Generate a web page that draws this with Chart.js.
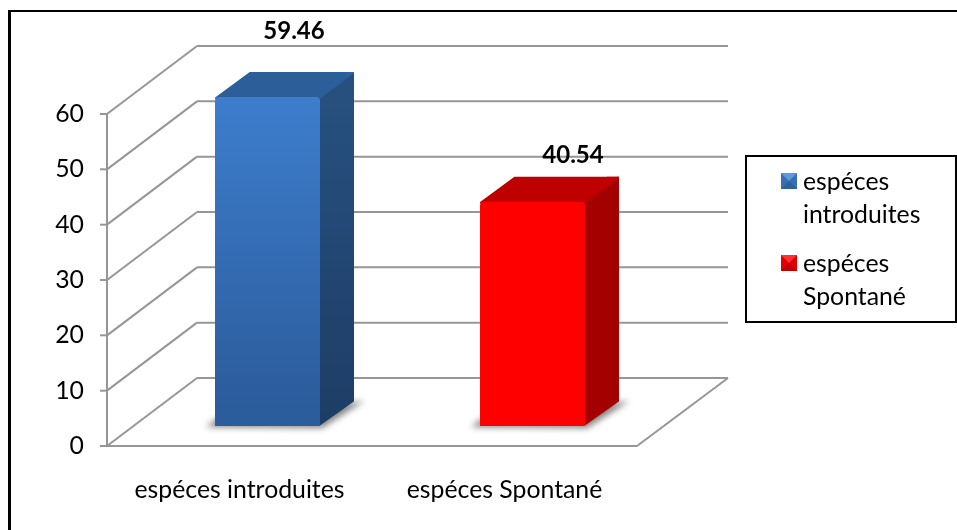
<!DOCTYPE html>
<html>
<head>
<meta charset="utf-8">
<style>
  html, body { margin: 0; padding: 0; background: #fff; }
  #wrap { position: relative; width: 957px; height: 530px; }
  canvas { display: block; }
</style>
<script src="https://cdn.jsdelivr.net/npm/chart.js@4/dist/chart.umd.min.js"></script>
</head>
<body>
<div id="wrap"><canvas id="c" width="957" height="530"></canvas></div>
<script>
const categories = ['espéces introduites', 'espéces Spontané'];
const values = [59.46, 40.54];
const valueLabels = ['59.46', '40.54'];
const yTicks = [0, 10, 20, 30, 40, 50, 60];
const legendLines = [['espéces', 'introduites'], ['espéces', 'Spontané']];

const FONT = 'Lato, Carlito, Calibri, sans-serif';
const TEXT_SIZE = 24.8;
const GRID = '#969696';

// Box depth of the pseudo-3D floor, and how far into it the bars stand.
const FLOOR = { dx: 90, dy: -68 };
const BAR_SHIFT = { dx: 28, dy: -20 };
const BAR_DEPTH = { dx: 34, dy: -25 };
// Value captions sit where they were placed by hand, relative to each bar.
const CAPTION_OFFSET = [{ dx: 54.5, dy: -86 }, { dx: 68.5, dy: -66 }];

const themes = [
  { front: ['#3f80d0', '#2b5c9c'], side: ['#27507f', '#1d3d66'], top: '#2c5e99', topEdge: '#2f66a8',
    swatch: { top: '#5a9be0', bottom: '#2f5f9f', side: '#3a70b0' } },
  { front: ['#ff0000', '#ff0000'], side: ['#a50000', '#a50000'], top: '#bf0000', topEdge: '#cc0000',
    swatch: { top: '#ff3030', bottom: '#c00000', side: '#e00000' } }
];

function line(ctx, x1, y1, x2, y2) {
  ctx.beginPath();
  ctx.moveTo(x1, y1);
  ctx.lineTo(x2, y2);
  ctx.stroke();
}

// Floor, side wall and back wall, all hung off the chart's own scales.
function drawRoom(chart) {
  const { ctx, chartArea: a, scales: { y } } = chart;
  ctx.save();
  ctx.strokeStyle = GRID;
  ctx.lineWidth = 2;
  yTicks.forEach(v => {
    const p = y.getPixelForValue(v);
    line(ctx, a.left, p, a.left + FLOOR.dx, p + FLOOR.dy);
    line(ctx, a.left + FLOOR.dx, p + FLOOR.dy, a.right + FLOOR.dx + 1, p + FLOOR.dy);
    line(ctx, a.left - 7, p, a.left, p);
  });
  const base = y.getPixelForValue(0);
  line(ctx, a.left, y.getPixelForValue(60), a.left, base);
  line(ctx, a.left - 7, base, a.right, base);
  line(ctx, a.right, base, a.right + FLOOR.dx + 1, base + FLOOR.dy);
  ctx.restore();
}

// Soft shadow on the floor plus the top and side faces of each bar.
function drawBarFaces(chart) {
  const { ctx } = chart;
  const meta = chart.getDatasetMeta(0);
  meta.data.forEach((bar, i) => {
    const t = themes[i];
    const w = bar.width;
    const l = bar.x - w / 2 + BAR_SHIFT.dx;
    const r = bar.x + w / 2 + BAR_SHIFT.dx;
    const top = bar.y + BAR_SHIFT.dy;
    const bottom = bar.base + BAR_SHIFT.dy;
    const d = BAR_DEPTH;

    ctx.save();
    ctx.filter = 'blur(3px)';
    ctx.fillStyle = 'rgba(90,90,90,0.75)';
    ctx.beginPath();
    ctx.moveTo(l - 9, bottom + 1);
    ctx.lineTo(l + 4, bottom - 9);
    ctx.lineTo(r + d.dx + 10, bottom + d.dy);
    ctx.lineTo(r + 2, bottom + 2);
    ctx.closePath();
    ctx.fill();
    ctx.restore();

    ctx.save();
    ctx.lineJoin = 'round';
    const sg = ctx.createLinearGradient(0, top, 0, bottom);
    sg.addColorStop(0, t.side[0]);
    sg.addColorStop(1, t.side[1]);
    ctx.fillStyle = sg;
    ctx.strokeStyle = sg;
    ctx.lineWidth = 2;
    ctx.beginPath();
    ctx.moveTo(r - 1, top + 1);
    ctx.lineTo(r + d.dx - 1, top + d.dy + 1);
    ctx.lineTo(r + d.dx - 1, bottom + d.dy);
    ctx.lineTo(r - 1, bottom - 1);
    ctx.closePath();
    ctx.fill();
    ctx.stroke();

    ctx.fillStyle = t.top;
    ctx.strokeStyle = t.top;
    ctx.beginPath();
    ctx.moveTo(l + 1, top + 1);
    ctx.lineTo(l + d.dx + 1, top + d.dy + 1);
    ctx.lineTo(r + d.dx - 1, top + d.dy + 1);
    ctx.lineTo(r - 1, top + 1);
    ctx.closePath();
    ctx.fill();
    ctx.stroke();

    const eg = ctx.createLinearGradient(r + d.dx - 12, 0, r + d.dx, 0);
    eg.addColorStop(0, t.top);
    eg.addColorStop(1, t.topEdge);
    ctx.fillStyle = eg;
    ctx.beginPath();
    ctx.moveTo(r, top);
    ctx.lineTo(r + d.dx, top + d.dy);
    ctx.lineTo(r + d.dx - 12, top + d.dy);
    ctx.closePath();
    ctx.fill();
    ctx.restore();
  });
}

const room3d = {
  id: 'room3d',
  beforeDatasetsDraw(chart) {
    drawRoom(chart);
    drawBarFaces(chart);
    chart.ctx.save();
    chart.ctx.translate(BAR_SHIFT.dx, BAR_SHIFT.dy);
  },
  afterDatasetsDraw(chart) {
    chart.ctx.restore();
  }
};

const valueText = {
  id: 'valueText',
  afterDatasetsDraw(chart) {
    const { ctx } = chart;
    ctx.save();
    ctx.font = 'bold 24px ' + FONT;
    ctx.fillStyle = '#000';
    ctx.textAlign = 'center';
    ctx.textBaseline = 'middle';
    chart.getDatasetMeta(0).data.forEach((bar, i) => {
      const o = CAPTION_OFFSET[i];
      ctx.fillText(valueLabels[i], bar.x + o.dx, bar.y + o.dy);
    });
    ctx.restore();
  }
};

// Bevelled legend key: four triangles meeting in the middle of a square.
function drawSwatch(ctx, x, y, s, c) {
  const cx = x + s / 2, cy = y + s / 2;
  const tri = (ax, ay, bx, by, col) => {
    ctx.fillStyle = col;
    ctx.beginPath();
    ctx.moveTo(ax, ay);
    ctx.lineTo(bx, by);
    ctx.lineTo(cx, cy);
    ctx.closePath();
    ctx.fill();
  };
  ctx.fillStyle = c.side;
  ctx.fillRect(x, y, s, s);
  tri(x, y, x + s, y, c.top);
  tri(x, y + s, x + s, y + s, c.bottom);
}

// Top and left rules of the frame, and the boxed two-line legend.
const frameAndLegend = {
  id: 'frameAndLegend',
  afterDraw(chart) {
    const { ctx } = chart;
    ctx.save();
    ctx.fillStyle = '#000';
    ctx.fillRect(8, 10, 949, 2);
    ctx.fillRect(8, 10, 3, 520);

    ctx.strokeStyle = '#000';
    ctx.lineWidth = 2;
    ctx.fillStyle = '#fff';
    ctx.fillRect(745, 156, 212, 166);
    ctx.strokeRect(746, 156, 210, 166);

    ctx.font = TEXT_SIZE + 'px ' + FONT;
    ctx.textBaseline = 'middle';
    ctx.textAlign = 'left';
    const rows = [181, 263];
    legendLines.forEach((lines, i) => {
      const y0 = rows[i];
      drawSwatch(ctx, 781, y0 - 8, 16, themes[i].swatch);
      ctx.fillStyle = '#000';
      lines.forEach((txt, j) => ctx.fillText(txt, 803, y0 + 1 + j * 33.5));
    });
    ctx.restore();
  }
};

new Chart(document.getElementById('c'), {
  type: 'bar',
  data: {
    labels: categories,
    datasets: [{
      data: values,
      backgroundColor: ctx => {
        const i = ctx.dataIndex;
        const area = ctx.chart.chartArea;
        if (!area) return themes[i].front[0];
        const g = ctx.chart.ctx.createLinearGradient(0, area.top - 20, 0, area.bottom - 20);
        g.addColorStop(0, themes[i].front[0]);
        g.addColorStop(1, themes[i].front[1]);
        return g;
      },
      borderWidth: 0,
      borderRadius: { topLeft: 4, topRight: 4, bottomLeft: 0, bottomRight: 0 },
      borderSkipped: false,
      barPercentage: 1,
      categoryPercentage: 105 / 265,
      clip: false
    }]
  },
  options: {
    responsive: false,
    animation: false,
    layout: { padding: { left: 40, right: 320, top: 114, bottom: 0 } },
    plugins: { legend: { display: false }, tooltip: { enabled: false } },
    scales: {
      x: {
        afterFit(s) { s.height = 84; },
        grid: { display: false, drawTicks: false },
        border: { display: false },
        ticks: { color: '#000', font: { family: FONT, size: TEXT_SIZE }, padding: 29, maxRotation: 0 }
      },
      y: {
        min: 0,
        max: 60,
        afterFit(s) { s.width = 67; },
        afterBuildTicks(s) { s.ticks = yTicks.map(v => ({ value: v })); },
        grid: { display: false, drawTicks: false },
        border: { display: false },
        ticks: { color: '#000', font: { family: FONT, size: TEXT_SIZE }, padding: 23 }
      }
    }
  },
  plugins: [room3d, valueText, frameAndLegend]
});
</script>
</body>
</html>
